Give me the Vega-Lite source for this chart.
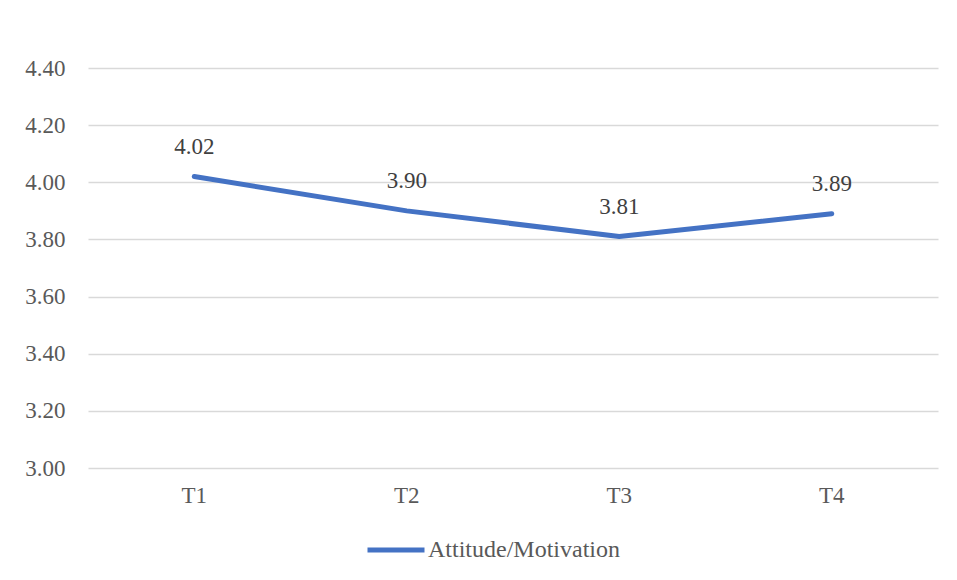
{
  "$schema": "https://vega.github.io/schema/vega-lite/v6.json",
  "width": 850,
  "height": 400,
  "autosize": {"type": "none"},
  "padding": {"left": 88, "top": 68, "right": 19, "bottom": 112},
  "background": "white",
  "config": {
    "view": {"stroke": null},
    "font": "Liberation Serif",
    "axis": {"labelFont": "Liberation Serif", "labelFontSize": 23, "labelColor": "#595959", "gridColor": "#d9d9d9", "gridWidth": 1.5},
    "legend": {"labelFont": "Liberation Serif", "labelFontSize": 24, "labelColor": "#595959", "labelLimit": 400}
  },
  "data": {"values": [
    {"time": "T1", "value": 4.02, "series": "Attitude/Motivation"},
    {"time": "T2", "value": 3.90, "series": "Attitude/Motivation"},
    {"time": "T3", "value": 3.81, "series": "Attitude/Motivation"},
    {"time": "T4", "value": 3.89, "series": "Attitude/Motivation"}
  ]},
  "encoding": {
    "x": {"field": "time", "type": "ordinal", "title": null,
      "scale": {"type": "band", "paddingInner": 0, "paddingOuter": 0},
      "axis": {"labelAngle": 0, "domain": false, "ticks": false, "grid": false, "labelPadding": 16}},
    "y": {"field": "value", "type": "quantitative", "title": null,
      "scale": {"domain": [3, 4.4], "nice": false, "zero": false},
      "axis": {"values": [3, 3.2, 3.4, 3.6, 3.8, 4.0, 4.2, 4.4], "format": ".2f", "domain": false, "ticks": false, "labelPadding": 23, "grid": true}}
  },
  "layer": [
    {
      "mark": {"type": "line", "strokeWidth": 5, "strokeCap": "round", "strokeJoin": "round"},
      "encoding": {
        "color": {"field": "series", "type": "nominal", "title": null,
          "scale": {"range": ["#4472C4"]},
          "legend": {"orient": "none", "legendX": 277, "legendY": 451, "symbolType": "stroke", "symbolSize": 3249, "symbolStrokeWidth": 5, "labelOffset": 1, "padding": 0}}
      }
    },
    {
      "mark": {"type": "text", "dy": -30, "fontSize": 23, "font": "Liberation Serif", "color": "#404040"},
      "encoding": {"text": {"field": "value", "type": "quantitative", "format": ".2f"}}
    }
  ]
}
